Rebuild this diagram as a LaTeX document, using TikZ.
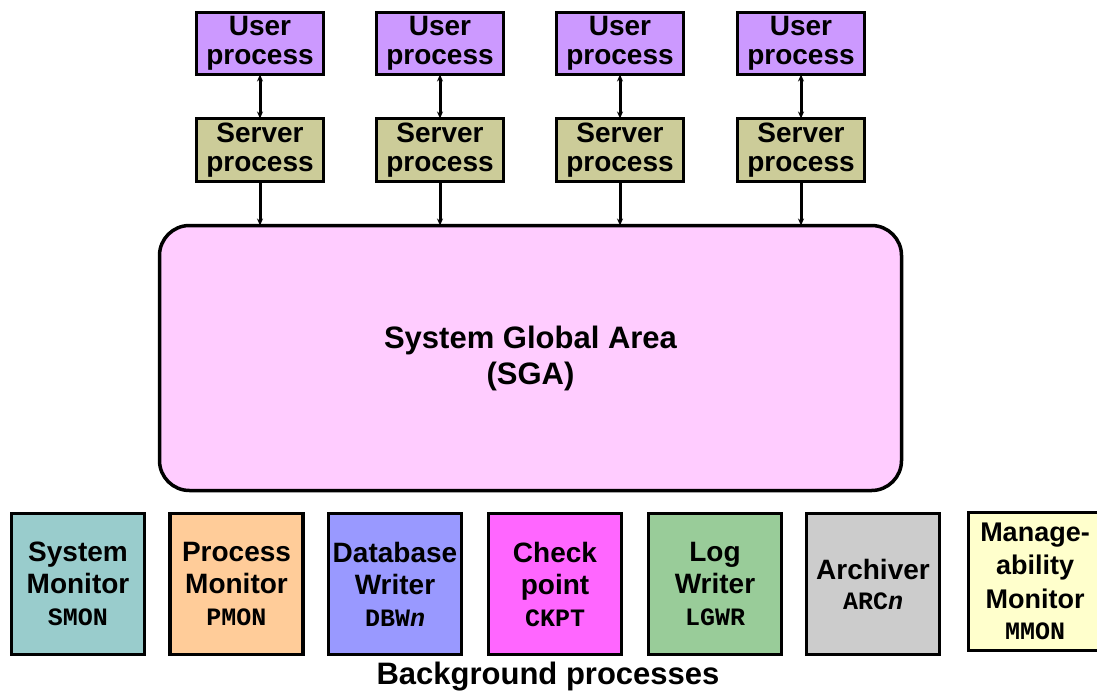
\documentclass[tikz,border=0pt]{standalone}
\usepackage{fontspec}
\setmainfont{Liberation Sans}
\setmonofont{Liberation Mono}
\usetikzlibrary{arrows.meta}
\definecolor{userc}{HTML}{CC99FF}
\definecolor{serverc}{HTML}{CCCC99}
\definecolor{sgac}{HTML}{FFCCFF}
\definecolor{smonc}{HTML}{99CCCC}
\definecolor{pmonc}{HTML}{FFCC99}
\definecolor{dbwc}{HTML}{9999FF}
\definecolor{ckptc}{HTML}{FF66FF}
\definecolor{lgwrc}{HTML}{99CC99}
\definecolor{arcc}{HTML}{CCCCCC}
\definecolor{mmonc}{HTML}{FFFFCC}
\newcommand{\cd}[1]{{\fontsize{25}{28}\selectfont\ttfamily\bfseries #1}}
\tikzset{
  topbox/.style={draw=black, line width=3.5pt, minimum width=127pt, minimum height=62pt,
    inner sep=0pt, outer sep=0pt, align=center, font=\fontsize{28}{29.5}\selectfont\bfseries},
  bgbox/.style={draw=black, line width=3.5pt, minimum width=133pt, minimum height=141pt,
    inner sep=0pt, outer sep=0pt, align=center, font=\fontsize{28}{32}\selectfont\bfseries},
  conn/.style={line width=3pt, -{Stealth[length=7pt,width=6pt]}},
  bconn/.style={line width=3pt, {Stealth[length=7pt,width=6pt]}-{Stealth[length=7pt,width=6pt]}}
}
\begin{document}
\begin{tikzpicture}[x=1pt,y=-1pt]
\useasboundingbox (0,0) rectangle (1097,694);
% user and server processes
\foreach \i/\x in {1/260,2/440,3/620,4/801}{
  \node[topbox, fill=userc] (u\i) at (\x,43.5) {User\\process};
  \node[topbox, fill=serverc, minimum height=63pt] (s\i) at (\x,150) {Server\\process};
}
\node[draw=black, line width=3.5pt, fill=sgac, rounded corners=30pt,
  minimum width=742pt, minimum height=265pt, inner sep=0pt, outer sep=0pt,
  align=center, font=\fontsize{31}{36}\selectfont\bfseries] (sga) at (530.5,358)
  {System Global Area\\(SGA)};
\foreach \i in {1,2,3,4}{
  \draw[bconn] (u\i.south) -- (s\i.north);
  \draw[conn] (s\i.south) -- (s\i.south |- sga.north);
}
% background processes
\node[bgbox, fill=smonc] (smon) at (78,584) {System\\Monitor\\\cd{SMON}};
\node[bgbox, fill=pmonc] (pmon) at (236.5,584) {Process\\Monitor\\\cd{PMON}};
\node[bgbox, fill=dbwc] (dbw) at (395,584) {Database\\Writer\\\cd{DBW\textit{n}}};
\node[bgbox, fill=ckptc] (ckpt) at (555,584) {Check\\point\\\cd{CKPT}};
\node[bgbox, fill=lgwrc] (lgwr) at (715,584) {Log\\Writer\\\cd{LGWR}};
\node[bgbox, fill=arcc] (arc) at (873,584) {Archiver\\[-2pt]\cd{ARC\textit{n}}};
\node[bgbox, fill=mmonc, minimum height=138pt, font=\fontsize{27}{33.5}\selectfont\bfseries] (mmon) at (1035,581.5)
  {Manage-\\ability\\Monitor\\[-2pt]\cd{MMON}};
\node[font=\fontsize{31}{36}\selectfont\bfseries, inner sep=0pt] (bglabel) at (548,677) {Background processes};
\end{tikzpicture}
\end{document}
